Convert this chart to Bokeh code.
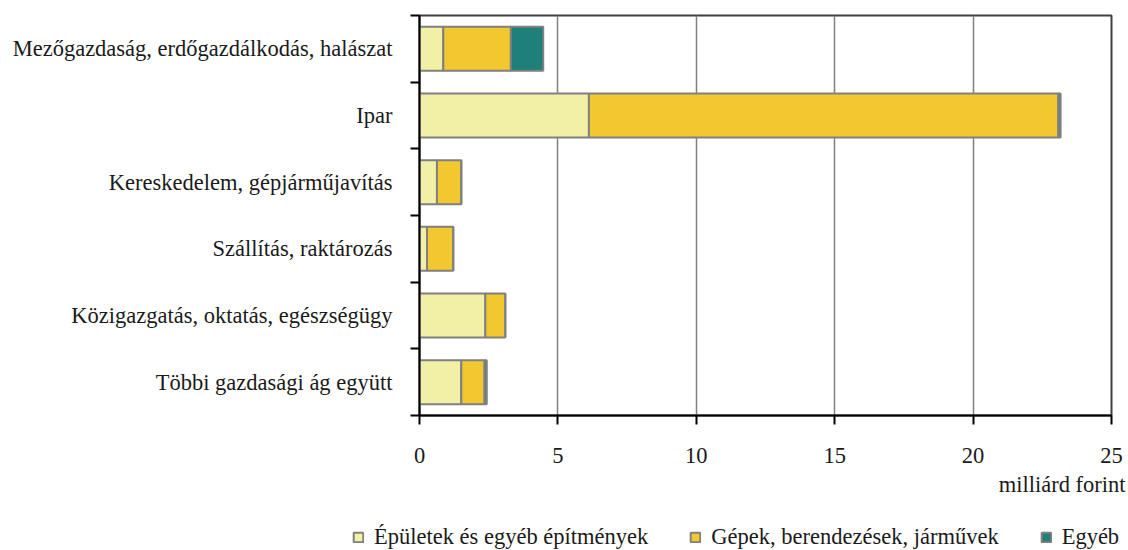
from bokeh.plotting import figure
from bokeh.layouts import column
from bokeh.models import FixedTicker, Range1d, Legend, LegendItem, Title, ColumnDataSource
from bokeh.embed import file_html
from bokeh.resources import INLINE

# Data (bottom to top)
categories = [
    "Többi gazdasági ág együtt",
    "Közigazgatás, oktatás, egészségügy",
    "Szállítás, raktározás",
    "Kereskedelem, gépjárműjavítás",
    "Ipar",
    "Mezőgazdaság, erdőgazdálkodás, halászat",
]
epuletek = [1.51, 2.38, 0.27, 0.63, 6.12, 0.86]
gepek = [0.84, 0.72, 0.95, 0.88, 16.96, 2.44]
egyeb = [0.08, 0.0, 0.0, 0.0, 0.08, 1.17]
series_names = ["Épületek és egyéb építmények", "Gépek, berendezések, járművek", "Egyéb"]
x_ticks = [0, 5, 10, 15, 20, 25]
x_unit = "milliárd forint"

FONT = "Liberation Serif"
FS = "22.5px"
colors = ["#F2F0A6", "#F2C72F", "#1F7F79"]
LINE = "#808080"

ypos = [i + 0.5 for i in range(len(categories))]
src = ColumnDataSource(dict(y=ypos, a=epuletek, b=gepek, c=egyeb))

p = figure(output_backend="svg", toolbar_location=None, title=None,
           x_range=Range1d(0, 25), y_range=Range1d(0, len(categories)),
           frame_width=692, frame_height=400,
           min_border_left=419, min_border_right=17, min_border_top=15, min_border_bottom=105)

rs = p.hbar_stack(["a", "b", "c"], y="y", height=0.66, source=src,
                  fill_color=colors, line_color=LINE, line_width=2)

# x axis
p.xaxis.ticker = FixedTicker(ticks=x_ticks, minor_ticks=[])
p.xaxis.axis_line_color = "black"
p.xaxis.axis_line_width = 2
p.xaxis.major_tick_line_color = "black"
p.xaxis.major_tick_line_width = 2
p.xaxis.major_tick_out = 9
p.xaxis.major_tick_in = 0
p.xaxis.major_label_standoff = 23
p.xaxis.major_label_text_font = FONT
p.xaxis.major_label_text_font_size = FS
p.xaxis.major_label_text_color = "#1a1a1a"

# y axis: labels at category centres, ticks at boundaries
p.yaxis.ticker = FixedTicker(ticks=ypos, minor_ticks=list(range(len(categories) + 1)))
p.yaxis.major_label_overrides = {yv: c for yv, c in zip(ypos, categories)}
p.yaxis.major_tick_out = 0
p.yaxis.major_tick_in = 0
p.yaxis.minor_tick_out = 9
p.yaxis.minor_tick_in = 0
p.yaxis.minor_tick_line_color = "black"
p.yaxis.minor_tick_line_width = 2
p.yaxis.axis_line_color = "black"
p.yaxis.axis_line_width = 2
p.yaxis.major_label_standoff = 18
p.yaxis.major_label_text_font = FONT
p.yaxis.major_label_text_font_size = FS
p.yaxis.major_label_text_color = "#1a1a1a"

p.xgrid.ticker = FixedTicker(ticks=x_ticks)
p.xgrid.grid_line_color = "#808080"
p.xgrid.grid_line_width = 1.5
p.ygrid.grid_line_color = None

p.outline_line_color = "#404040"
p.outline_line_width = 2

p.add_layout(Title(text=x_unit, align="right", text_font=FONT, text_font_size=FS,
                   text_font_style="normal", text_color="#1a1a1a", standoff=9, offset=-14), "below")

# Legend strip below the chart (proxy glyphs sit outside the visible range)
p2 = figure(output_backend="svg", toolbar_location=None, title=None,
            width=1128, height=30, min_border=0,
            x_range=Range1d(0, 1), y_range=Range1d(0, 1))
p2.axis.visible = False
p2.grid.visible = False
p2.outline_line_color = None

aligned = True
if "frame_align" in p2.properties():
    p.frame_align = False
    p2.frame_align = False
    aligned = False

proxies = [p2.rect(x=[-10], y=[-10], width=1, height=1, fill_color=c, line_color=LINE, line_width=2)
           for c in colors]
legend = Legend(items=[LegendItem(label=n, renderers=[r]) for n, r in zip(series_names, proxies)],
                orientation="horizontal", location=((-67 if aligned else 352), 0),
                glyph_width=12, glyph_height=12, label_standoff=10, spacing=41,
                padding=0, margin=0, border_line_color=None, background_fill_alpha=0,
                label_text_font=FONT, label_text_font_size=FS, label_text_color="#1a1a1a")
p2.add_layout(legend)

open("out.html", "w").write(file_html(column(p, p2, spacing=0), INLINE))
